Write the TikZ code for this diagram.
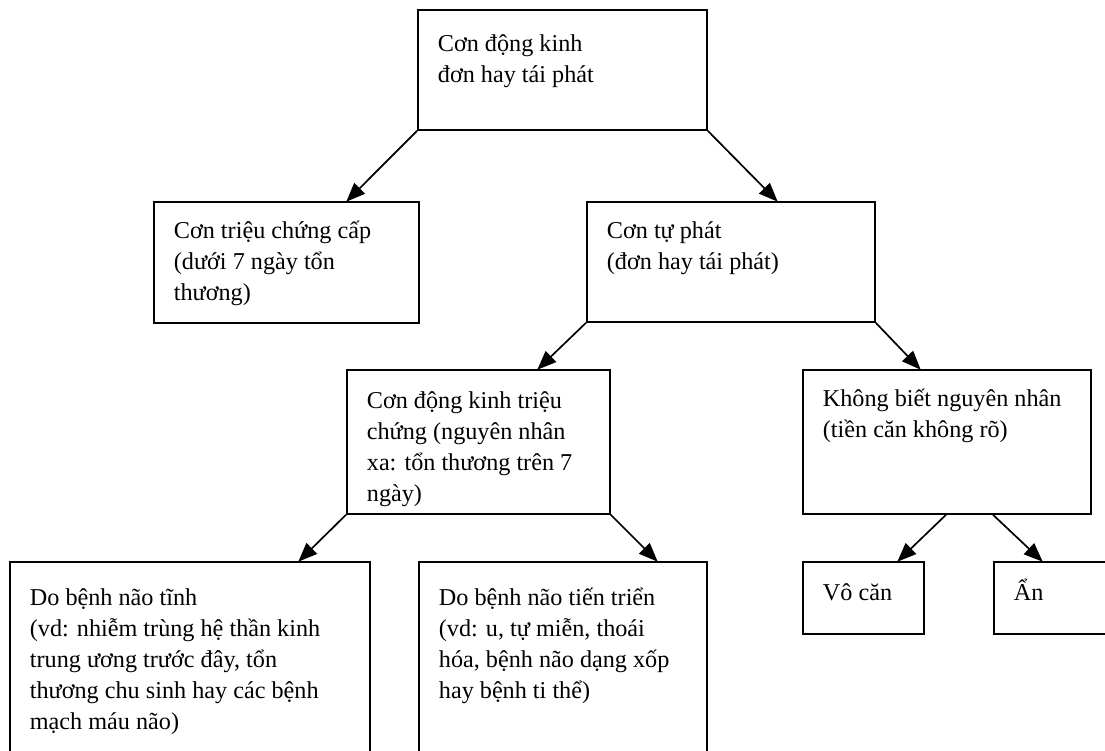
\documentclass[tikz,border=0pt]{standalone}
\usepackage{fontspec}
\setmainfont{Liberation Serif}
\usetikzlibrary{arrows.meta,calc}
\newcommand{\bxt}[4][0pt]{\parbox[b][#3][t]{#2}{\vspace*{\dimexpr14pt+#1\relax}\leftskip=20pt\parindent=0pt\rule{0pt}{23pt}#4}}
\begin{document}
\begin{tikzpicture}[x=1pt,y=-1pt,
  box/.style={draw, line width=1.8pt, inner sep=0pt, anchor=north west,
    font=\fontsize{24.2}{31}\selectfont},
  link/.style={line width=1.7pt, -{Triangle[length=19pt,width=15pt]}, shorten >=-1pt}]
\useasboundingbox (0,0) rectangle (1105,750);
\clip (0,0) rectangle (1105,750);
\node[box] (top) at (417,9) {\bxt[5pt]{289pt}{120pt}{Cơn động kinh\\đơn hay tái phát}};
\node[box] (b2) at (153,201) {\bxt{265pt}{121pt}{Cơn triệu chứng cấp\\(dưới 7 ngày tổn\\thương)}};
\node[box] (b3) at (586,201) {\bxt{288pt}{120pt}{Cơn tự phát\\(đơn hay tái phát)}};
\node[box] (b4) at (346,369) {\bxt[2pt]{263pt}{144pt}{Cơn động kinh triệu\\chứng (nguyên nhân\\xa: tổn thương trên 7\\ngày)}};
\node[box] (b5) at (802,369) {\bxt{288pt}{144pt}{Không biết nguyên nhân\\(tiền căn không rõ)}};
\node[box] (vo) at (802,561) {\bxt[2pt]{121pt}{72pt}{Vô căn}};
\node[box] (an) at (993,561) {\bxt[2pt]{130pt}{72pt}{Ẩn}};
\node[box] (ba) at (9,561) {\bxt[7pt]{360pt}{200pt}{Do bệnh não tĩnh\\(vd: nhiễm trùng hệ thần kinh\\trung ương trước đây, tổn\\thương chu sinh hay các bệnh\\mạch máu não)}};
\node[box] (bb) at (418,561) {\bxt[7pt]{288pt}{200pt}{Do bệnh não tiến triển\\(vd: u, tự miễn, thoái\\hóa, bệnh não dạng xốp\\hay bệnh ti thể)}};
\draw[link] (top.south west) -- ([xshift=194pt]b2.north west);
\draw[link] (top.south east) -- ([xshift=191pt]b3.north west);
\draw[link] (b3.south west) -- ([xshift=192pt]b4.north west);
\draw[link] (b3.south east) -- ([xshift=118pt]b5.north west);
\draw[link] (b4.south west) -- ([xshift=290pt]ba.north west);
\draw[link] (b4.south east) -- ([xshift=239pt]bb.north west);
\draw[link] ([xshift=144pt]b5.south west) -- ([xshift=96pt]vo.north west);
\draw[link] ([xshift=191pt]b5.south west) -- ([xshift=49pt]an.north west);
\end{tikzpicture}
\end{document}
